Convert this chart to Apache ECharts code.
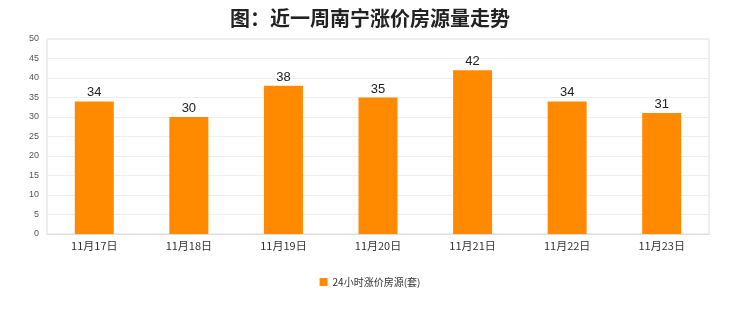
<!DOCTYPE html>
<html><head><meta charset="utf-8">
<script src="https://cdn.jsdelivr.net/npm/echarts@6/dist/echarts.min.js"></script>
<style>html,body{margin:0;padding:0;background:#fff}#c{width:740px;height:312px}</style>
</head><body><div id="c"></div>
<script>
const categories = ['11月17日','11月18日','11月19日','11月20日','11月21日','11月22日','11月23日'];
const values = [34, 30, 38, 35, 42, 34, 31];
const seriesName = '24小时涨价房源(套)';
const chart = echarts.init(document.getElementById('c'));
chart.setOption({
  animation: false,
  title: {text: '图：近一周南宁涨价房源量走势', left: 'center', top: 3,
    textStyle: {fontSize: 20, fontWeight: 'bold', color: '#222', fontFamily: 'Noto Sans CJK SC'}},
  grid: {left: 47, right: 31, top: 39, bottom: 78, show: true, borderColor: '#ddd', borderWidth: 1},
  legend: {bottom: 20, itemWidth: 8, itemHeight: 8, icon: 'rect',
    textStyle: {fontSize: 10, color: '#333', fontFamily: 'Noto Sans CJK SC'}},
  xAxis: {type: 'category', data: categories,
    axisLine: {lineStyle: {color: '#ddd'}}, axisTick: {show: false},
    axisLabel: {fontSize: 11, color: '#333', margin: 6, fontFamily: 'Noto Sans CJK SC'}},
  yAxis: {type: 'value', min: 0, max: 50, interval: 5,
    axisLine: {show: false}, axisTick: {show: false},
    splitLine: {lineStyle: {color: '#eee'}},
    axisLabel: {fontSize: 9, color: '#555', margin: 8}},
  series: [{name: seriesName, type: 'bar', data: values, barWidth: 39,
    itemStyle: {color: '#FF8A00'},
    label: {show: true, position: 'top', fontSize: 13, color: '#222', distance: 2}}]
});
</script></body></html>
